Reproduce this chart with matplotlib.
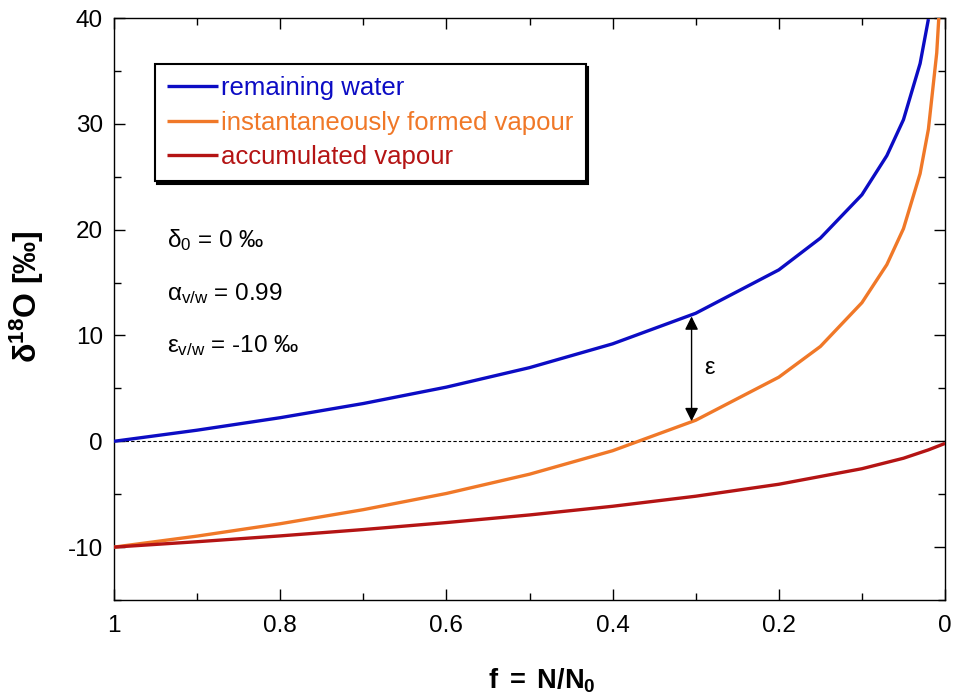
import matplotlib
matplotlib.use("Agg")
import matplotlib.pyplot as plt
from matplotlib.ticker import MultipleLocator

plt.rcParams['font.family'] = ['Liberation Sans', 'DejaVu Sans']
plt.rcParams['mathtext.fontset'] = 'custom'
plt.rcParams['mathtext.rm'] = 'Liberation Sans'
plt.rcParams['mathtext.it'] = 'Liberation Sans'
plt.rcParams['mathtext.bf'] = 'Liberation Sans:bold'
plt.rcParams['axes.unicode_minus'] = False

# remaining fraction f = N/N0
f_water = [1.0, 0.9, 0.8, 0.7, 0.6, 0.5, 0.4, 0.3, 0.2, 0.15, 0.1, 0.07, 0.05, 0.03, 0.02]
d_water = [0.0, 1.05, 2.23, 3.57, 5.12, 6.96, 9.21, 12.1, 16.2, 19.2, 23.3, 27.0, 30.4, 35.7, 39.9]

f_inst = [1.0, 0.9, 0.8, 0.7, 0.6, 0.5, 0.4, 0.3, 0.2, 0.15, 0.1, 0.07, 0.05, 0.03, 0.02, 0.01, 0.006]
d_inst = [-10.0, -8.96, -7.79, -6.46, -4.93, -3.11, -0.89, 1.99, 6.06, 8.96, 13.1, 16.7, 20.1, 25.3, 29.5, 36.7, 42.0]

f_acc = [1.0, 0.9, 0.8, 0.7, 0.6, 0.5, 0.4, 0.3, 0.2, 0.1, 0.05, 0.02, 0.0]
d_acc = [-10.0, -9.49, -8.94, -8.34, -7.68, -6.96, -6.14, -5.19, -4.06, -2.59, -1.60, -0.81, -0.2]

labels = ["remaining water", "instantaneously formed vapour", "accumulated vapour"]
colors = ["#0c0cc4", "#f07828", "#b41414"]

x_ticks = [1, 0.8, 0.6, 0.4, 0.2, 0]
x_ticklabels = ["1", "0.8", "0.6", "0.4", "0.2", "0"]
y_ticks = [-10, 0, 10, 20, 30, 40]

# epsilon arrow at f
f_eps = 0.305
eps_top = 11.8
eps_bot = 1.9

fig = plt.figure(figsize=(9.57, 6.99), dpi=100)
ax = fig.add_axes([0.1191, 0.1416, 0.8684, 0.8326])

ax.axhline(0, color="black", lw=0.8, ls=(0, (3, 2)), zorder=1)
for fx, dy, lab, c in zip([f_water, f_inst, f_acc], [d_water, d_inst, d_acc], labels, colors):
    ax.plot(fx, dy, color=c, lw=2.4, label=lab, zorder=3, solid_capstyle='butt')

ax.set_xlim(1, 0)
ax.set_ylim(-15, 40)
ax.set_xticks(x_ticks)
ax.set_xticklabels(x_ticklabels)
ax.set_yticks(y_ticks)
ax.xaxis.set_minor_locator(MultipleLocator(0.1))
ax.yaxis.set_minor_locator(MultipleLocator(5))
ax.tick_params(which='both', direction='in', top=True, right=True, labelsize=17.5)
ax.tick_params(axis='x', pad=11)
ax.tick_params(axis='y', pad=8)
ax.tick_params(which='major', length=8, width=1)
ax.tick_params(which='minor', length=5, width=1)
for s in ax.spines.values():
    s.set_linewidth(1.0)

ax.set_xlabel(r"$\mathbf{f\ =\ N/N_0}$", fontsize=19.5)
ax.xaxis.set_label_coords(0.515, -0.115)
ax.set_ylabel(r"$\mathbf{\delta^{18}O\ [‰]}$", fontsize=23)
ax.yaxis.set_label_coords(-0.082, 0.522)

ax.annotate("", xy=(f_eps, eps_bot), xytext=(f_eps, eps_top),
            arrowprops=dict(arrowstyle="<|-|>", color="black", lw=1.0,
                            mutation_scale=20, shrinkA=0, shrinkB=0))
ax.text(f_eps - 0.015, 6.9, "ε", fontsize=17, va="center", ha="left")

tx = 0.064
ax.text(tx, 0.619, r"$\delta_0$ = 0 ‰", transform=ax.transAxes, fontsize=17.5, va="center")
ax.text(tx, 0.527, r"$\alpha_{\rm v/w}$ = 0.99", transform=ax.transAxes, fontsize=17.5, va="center")
ax.text(tx, 0.438, r"$\varepsilon_{\rm v/w}$ = -10 ‰", transform=ax.transAxes, fontsize=17.5, va="center")

leg = ax.legend(loc="upper left", bbox_to_anchor=(0.049, 0.921), borderaxespad=0,
                fontsize=18.5, frameon=True, fancybox=False, handlelength=2.0,
                handletextpad=0.1, labelspacing=0.4, borderpad=0.48,
                labelcolor=colors, shadow={'color': 'black', 'alpha': 1.0})
leg.get_frame().set_edgecolor("black")
leg.get_frame().set_linewidth(1.5)
leg.get_frame().set_alpha(1.0)

fig.savefig("out.png", dpi=100)
